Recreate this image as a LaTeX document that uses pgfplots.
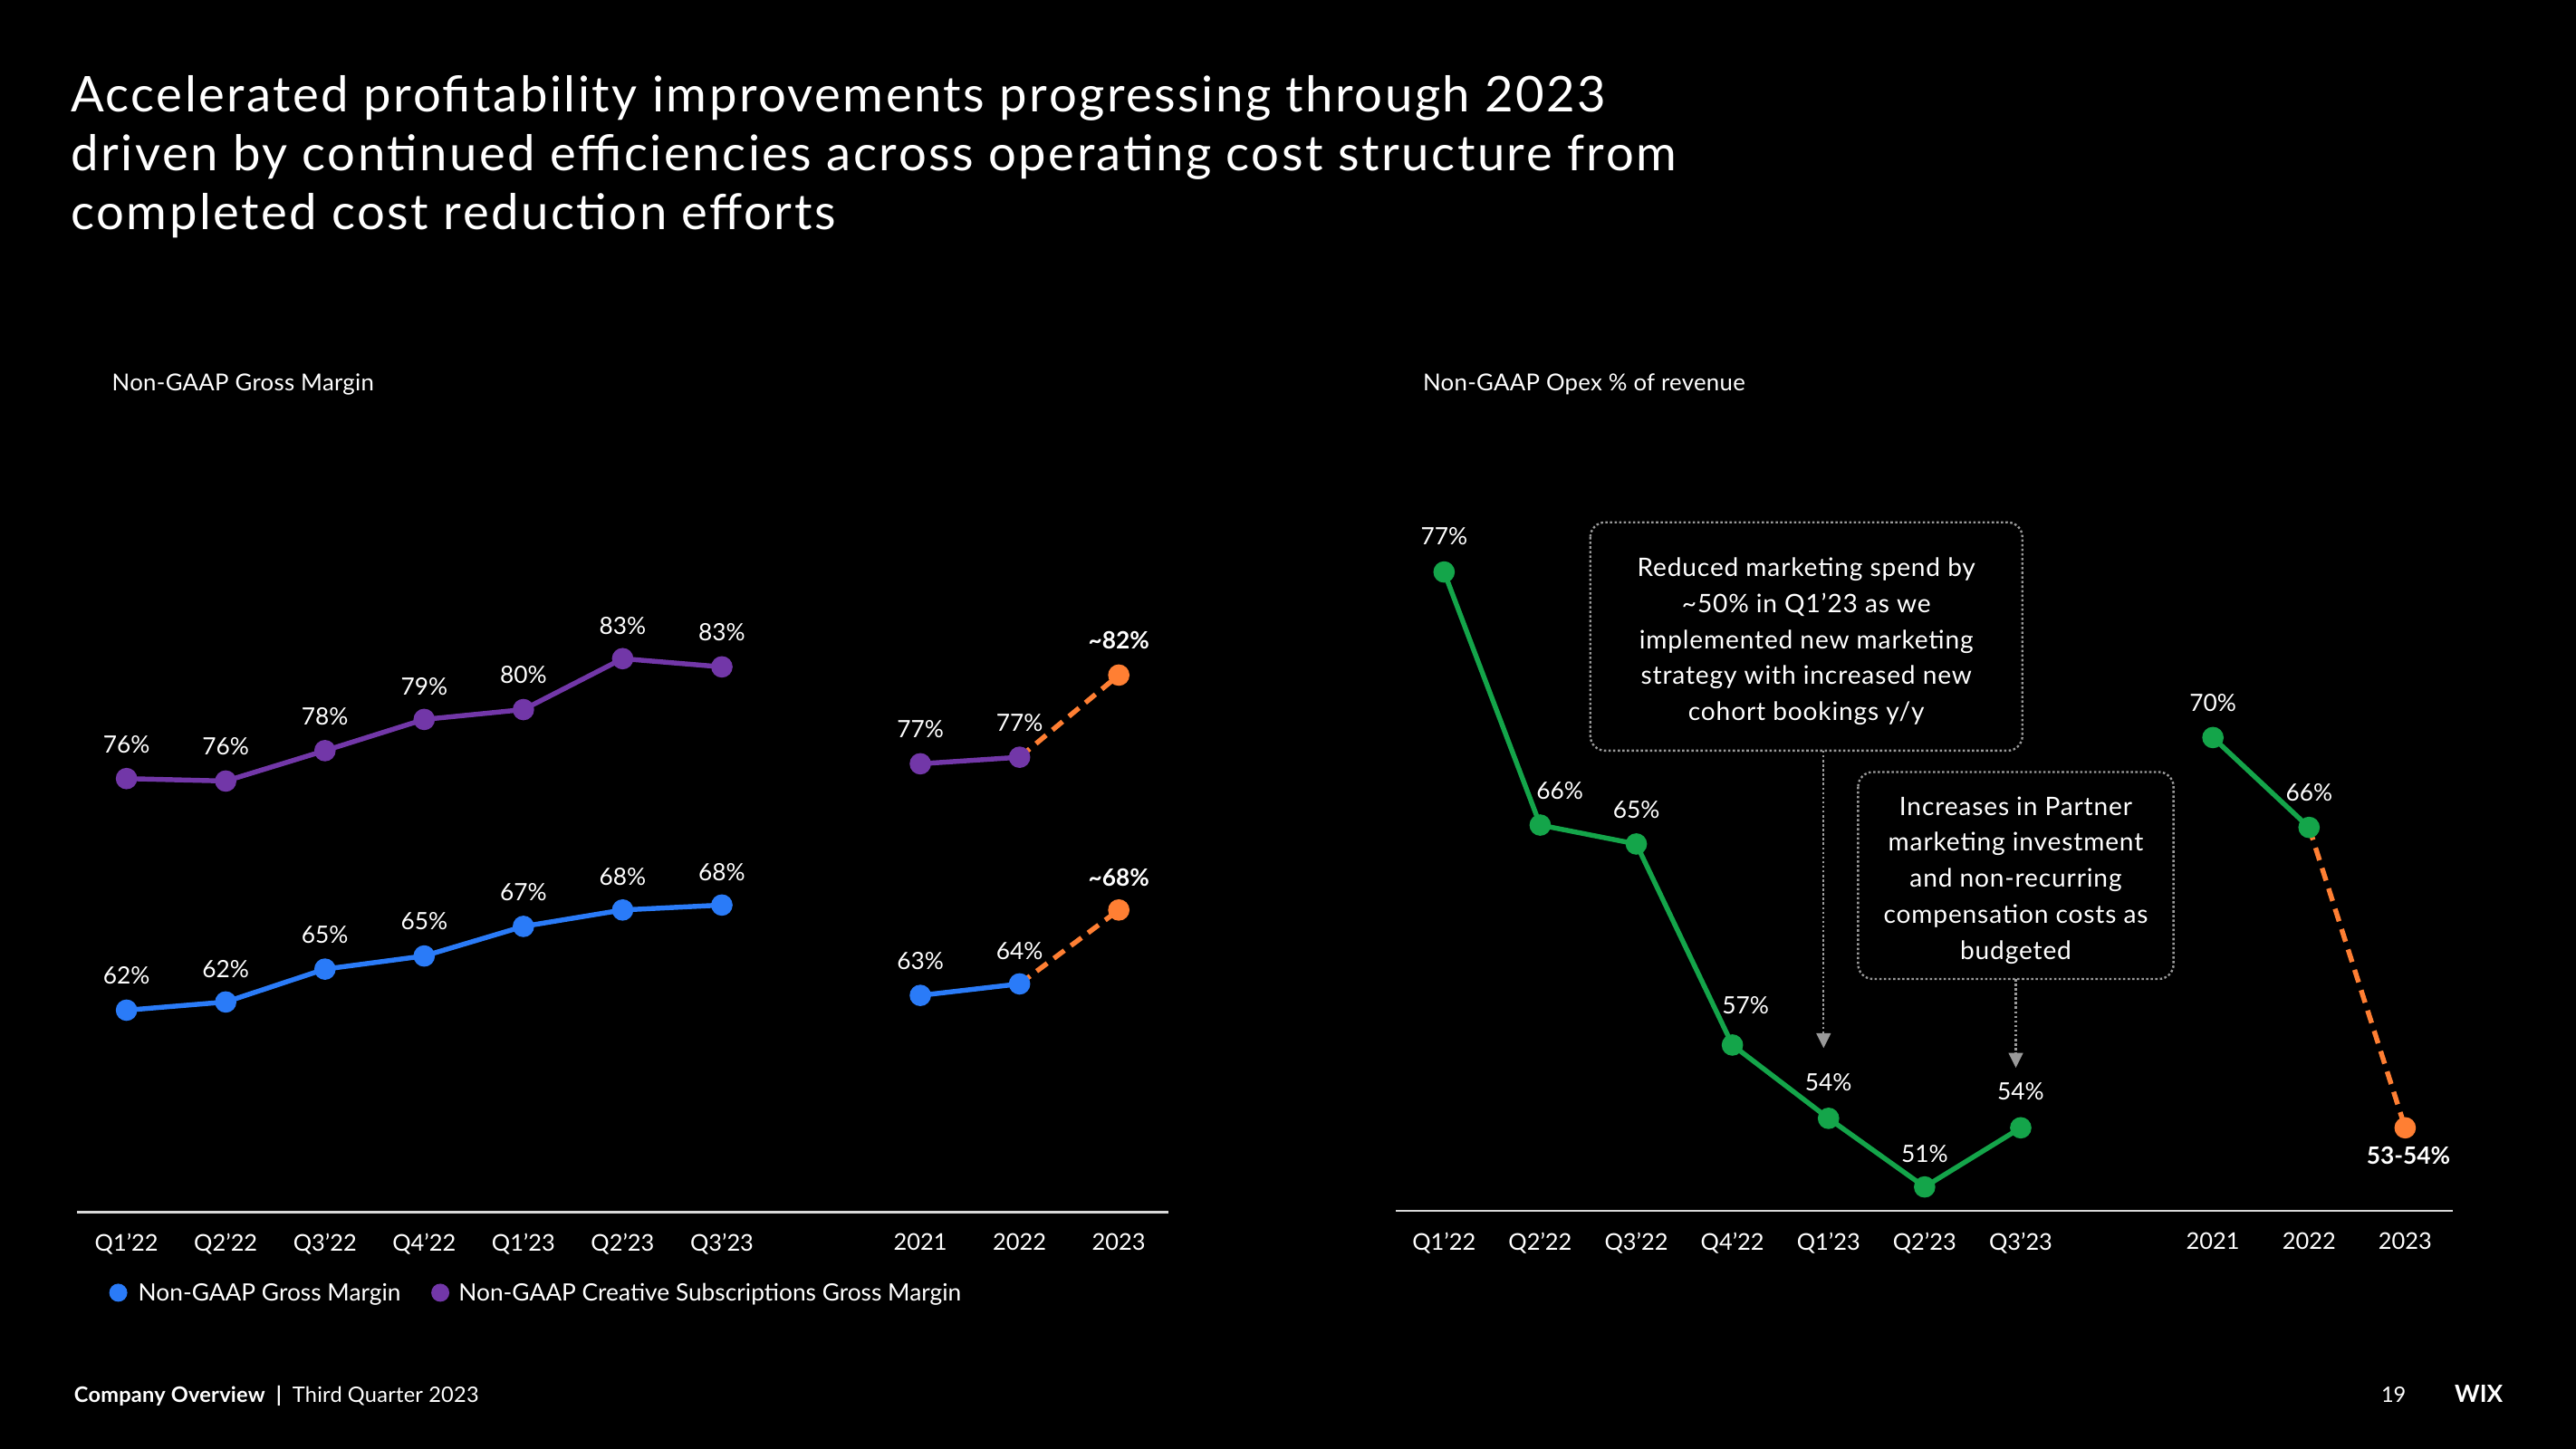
\documentclass[border=0pt]{standalone}
\usepackage{fontspec}
\setmainfont{Lato}
\usepackage{pgfplots}
\pgfplotsset{compat=1.18}
\usetikzlibrary{arrows.meta}
\definecolor{wpurple}{HTML}{7237A8}
\definecolor{wblue}{HTML}{2A7BF8}
\definecolor{wgreen}{HTML}{14A54A}
\definecolor{worange}{HTML}{FF7F33}
\definecolor{wline}{HTML}{D9D9D9}
\definecolor{wbox}{HTML}{9A9A9A}
\newcommand{\lbl}{\fontsize{14.5}{17}\selectfont}
\pgfplotsset{
  wix/.style={
    scale only axis, clip=false,
    axis x line*=bottom, hide y axis,
    x axis line style={wline, line width=1.2pt, -},
    xmin=-0.5, xmax=10.5,
    xtick={0,1,2,3,4,5,6,8,9,10},
    xticklabels={Q1’22,Q2’22,Q3’22,Q4’22,Q1’23,Q2’23,Q3’23,2021,2022,2023},
    major tick length=0pt,
    xticklabel style={text=white, font=\fontsize{14}{16}\selectfont, inner sep=0pt, yshift=-13pt},
    nodes near coords, point meta=explicit symbolic,
    visualization depends on={\thisrow{dx} \as \dx},
    visualization depends on={\thisrow{dy} \as \dy},
    every node near coord/.append style={text=white, font=\lbl, anchor=center, inner sep=0pt, xshift=\dx pt, yshift=\dy pt},
  },
  ser/.style={line width=3pt, color=#1, mark=*, mark size=5pt, mark options={solid, fill=#1, draw=#1}},
  fc/.style={line width=3pt, color=worange, dash pattern=on 8pt off 5pt, mark=*, mark size=5pt, mark indices={2}, mark options={solid, fill=worange, draw=worange}},
}
\begin{document}
\begin{tikzpicture}[x=1pt,y=1pt]
\fill[black] (0,0) rectangle (1568,882);
% title
\begin{scope}[every node/.style={text=white, font=\fontsize{30}{36}\selectfont\addfontfeatures{LetterSpace=4.6}, inner sep=0pt, anchor=base west}]
\node at (43,814) {Accelerated profitability improvements progressing through 2023};
\node at (43,778) {driven by continued efficiencies across operating cost structure from};
\node at (43,742) {completed cost reduction efforts};
\end{scope}
\node[text=white, font=\fontsize{14.2}{16}\selectfont\addfontfeatures{LetterSpace=1.2}, inner sep=0pt, anchor=base west] at (68,644) {Non-GAAP Gross Margin};
\node[text=white, font=\fontsize{14.2}{16}\selectfont\addfontfeatures{LetterSpace=1.2}, inner sep=0pt, anchor=base west] at (866,644) {Non-GAAP Opex \% of revenue};

% left chart
\begin{axis}[wix, at={(46.8pt,144pt)}, anchor=south west, width=664.4pt, height=438pt, ymin=49.5, ymax=93.3]
\addplot[fc] table[meta=lab] {
x y dx dy lab
9 77.2 0 21 {}
10 82.2 0 21 {\textbf{\textasciitilde82\%}}
};
\addplot[fc] table[meta=lab] {
x y dx dy lab
9 63.4 0 20 {}
10 67.9 0 20 {\textbf{\textasciitilde68\%}}
};
\addplot[ser=wpurple] table[meta=lab] {
x y dx dy lab
0 75.9 0 21 76\%
1 75.75 0 21 76\%
2 77.6 0 21 78\%
3 79.5 0 20 79\%
4 80.1 0 21 80\%
5 83.2 0 20 83\%
6 82.7 0 21 83\%
};
\addplot[ser=wpurple] table[meta=lab] {
x y dx dy lab
8 76.8 0 21 77\%
9 77.2 0 21 77\%
};
\addplot[ser=wblue] table[meta=lab] {
x y dx dy lab
0 61.8 0 21 62\%
1 62.3 0 20 62\%
2 64.3 0 21 65\%
3 65.1 0 21 65\%
4 66.9 0 21 67\%
5 67.9 0 20 68\%
6 68.2 0 20 68\%
};
\addplot[ser=wblue] table[meta=lab] {
x y dx dy lab
8 62.7 0 21 63\%
9 63.4 0 20 64\%
};
\end{axis}

% right chart
\begin{axis}[wix, at={(849.75pt,145pt)}, anchor=south west, width=643.5pt, height=437pt, ymin=50, ymax=80.35]
\addplot[fc] table[meta=lab] {
x y dx dy lab
9 66.2 0 0 {}
10 53.5 2 -17 {\textbf{53-54\%}}
};
\addplot[ser=wgreen] table[meta=lab] {
x y dx dy lab
0 77.0 0 22 77\%
1 66.3 12 21 66\%
2 65.5 0 21 65\%
3 57.0 8 24 57\%
4 53.9 0 22 54\%
5 51.0 0 20 51\%
6 53.5 0 22 54\%
};
\addplot[ser=wgreen] table[meta=lab] {
x y dx dy lab
8 70.0 0 21 70\%
9 66.2 0 21 66\%
};
\end{axis}

% annotations
\draw[wbox, line width=1.3pt, dash pattern=on 1.4pt off 1.4pt, rounded corners=9pt] (968,564) rectangle (1231,425);
\node[text=white, font=\fontsize{15.5}{22}\selectfont\addfontfeatures{LetterSpace=3}, align=center, inner sep=0pt] at (1099.5,491.5) {Reduced marketing spend by\\\textasciitilde50\% in Q1’23 as we\\implemented new marketing\\strategy with increased new\\cohort bookings y/y};
\draw[wbox, line width=1.3pt, dash pattern=on 1.4pt off 1.4pt, rounded corners=9pt] (1131,412) rectangle (1323,286);
\node[text=white, font=\fontsize{15.5}{22}\selectfont\addfontfeatures{LetterSpace=3}, align=center, inner sep=0pt] at (1227,346) {Increases in Partner\\marketing investment\\and non-recurring\\compensation costs as\\budgeted};
\draw[wbox, line width=1.3pt, dash pattern=on 1.4pt off 1.4pt] (1110,425) -- (1110,252);
\fill[wbox] (1105.5,253) -- (1114.5,253) -- (1110,244) -- cycle;
\draw[wbox, line width=1.3pt, dash pattern=on 1.4pt off 1.4pt] (1227,286) -- (1227,240);
\fill[wbox] (1222.5,241) -- (1231.5,241) -- (1227,232) -- cycle;

% legend
\fill[wblue] (72,95) circle (5.5);
\node[text=white, font=\lbl, inner sep=0pt, anchor=base west] at (84,90) {Non-GAAP Gross Margin};
\fill[wpurple] (268,95) circle (5.5);
\node[text=white, font=\lbl, inner sep=0pt, anchor=base west] at (279,90) {Non-GAAP Creative Subscriptions Gross Margin};

% footer
\node[text=white, font=\fontsize{13}{15}\selectfont\addfontfeatures{LetterSpace=1}, inner sep=0pt, anchor=base west] at (45,28) {\textbf{Company Overview}\enspace\textbf{|}\enspace Third Quarter 2023};
\node[text=white, font=\fontsize{13}{15}\selectfont, inner sep=0pt, anchor=base] at (1457,28) {19};
\node[text=white, font=\fontsize{14.5}{16}\selectfont\bfseries, inner sep=0pt, anchor=base west] at (1494,28) {WIX};
\end{tikzpicture}
\end{document}
